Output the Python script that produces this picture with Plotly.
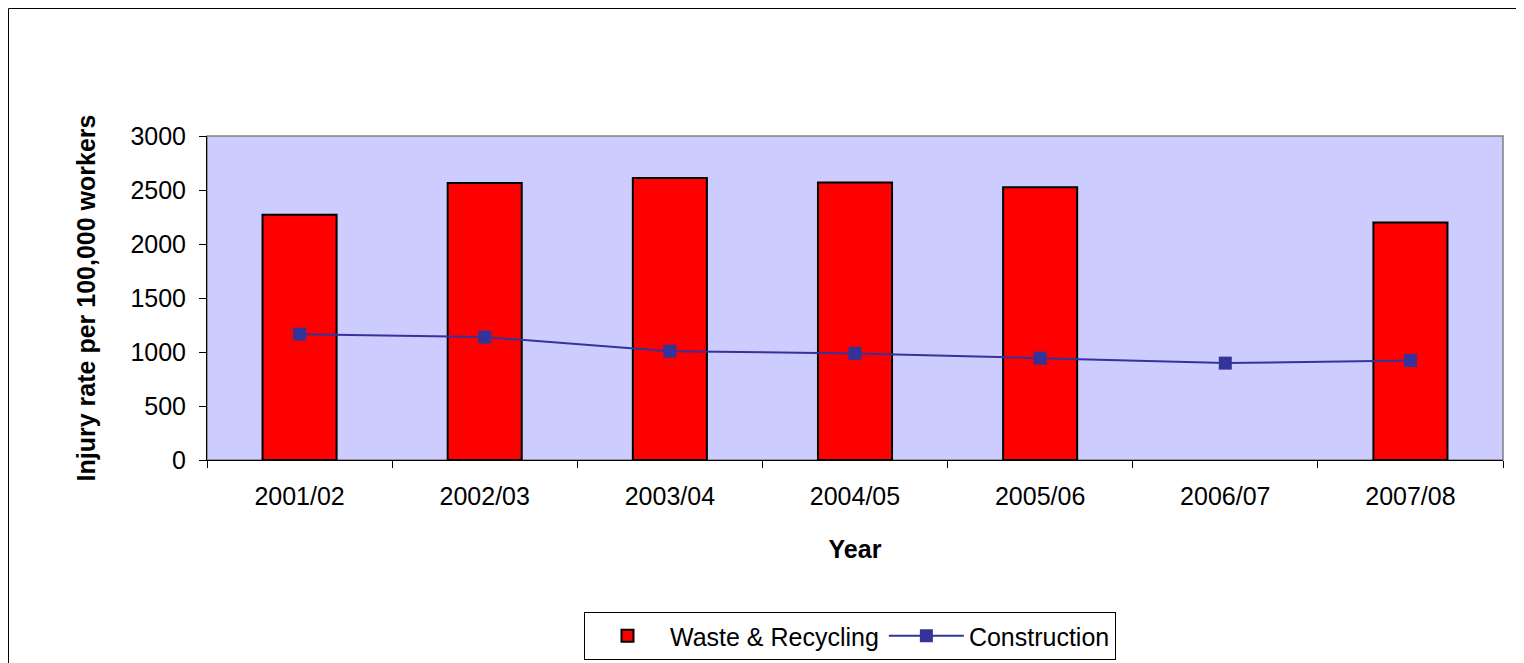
import plotly.graph_objects as go

years = ["2001/02", "2002/03", "2003/04", "2004/05", "2005/06", "2006/07", "2007/08"]
waste_recycling = [2270, 2565, 2610, 2570, 2525, None, 2200]
construction = [1165, 1138, 1008, 987, 943, 897, 922]
y_ticks = [0, 500, 1000, 1500, 2000, 2500, 3000]

FONT = "Liberation Sans, Arial, sans-serif"

fig = go.Figure()
fig.add_trace(go.Bar(
    x=years, y=waste_recycling, name="Waste & Recycling",
    marker=dict(color="#FF0000", line=dict(color="#000000", width=2)),
    width=0.4,
))
fig.add_trace(go.Scatter(
    x=years, y=construction, name="Construction", mode="lines+markers",
    line=dict(color="#333399", width=2),
    marker=dict(symbol="square", size=13, color="#333399"),
))

# page body adds an 8px offset; figure coordinates = screenshot coordinates - 8
OFF = 8
W, H = 1524 - OFF, 663 - OFF
L, T = 207 - OFF, 136 - OFF
R = W - (1503 - OFF)
B = H - (460 - OFF)
pw, ph = W - L - R, H - T - B

def px_x(x):
    return (x - OFF - L) / pw

def px_y(y):
    return (H - B - (y - OFF)) / ph

fig.update_layout(
    width=W, height=H,
    margin=dict(l=L, r=R, t=T, b=B, autoexpand=False),
    paper_bgcolor="white",
    plot_bgcolor="#CCCCFF",
    font=dict(family=FONT, size=25, color="#000000"),
    showlegend=True,
    legend=dict(
        orientation="h", x=px_x(850), y=px_y(612), xanchor="center", yanchor="top",
        bordercolor="#000000", borderwidth=1, bgcolor="white",
        font=dict(family=FONT, size=25), itemwidth=75,
    ),
    xaxis=dict(
        range=[-0.5, 6.5], showline=True, linecolor="#000000", linewidth=1,
        ticks="outside", ticklen=7, tickcolor="#000000", tickson="boundaries",
        showgrid=False, zeroline=False, ticklabelstandoff=14,
        title=dict(text="<b>Year</b>", standoff=31, font=dict(size=25)),
        tickfont=dict(size=25),
    ),
    yaxis=dict(
        range=[0, 3000], tickvals=y_ticks, showline=True, linecolor="#000000", linewidth=1,
        ticks="outside", ticklen=7, tickcolor="#000000", showgrid=False, zeroline=False,
        title=dict(text="<b>Injury rate per 100,000 workers</b>", standoff=27, font=dict(size=25)),
        tickfont=dict(size=25), ticklabelstandoff=8,
    ),
    shapes=[
        dict(type="rect", xref="paper", yref="paper", x0=0, x1=1, y0=0, y1=1,
             line=dict(color="#808080", width=1.5), layer="below"),
        dict(type="rect", xref="paper", yref="paper",
             x0=px_x(8.5), x1=px_x(1580), y0=px_y(720), y1=px_y(8.5),
             line=dict(color="#000000", width=1), layer="above"),
    ],
)

fig.write_html("out.html")
